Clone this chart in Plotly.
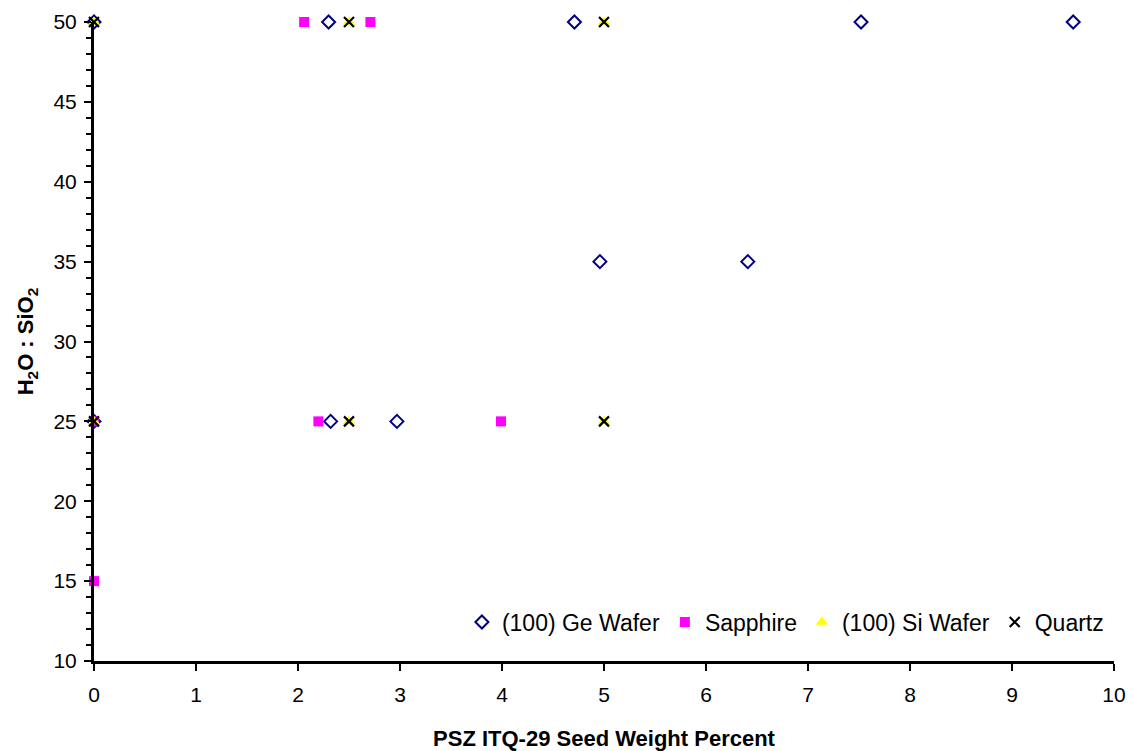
import plotly.graph_objects as go

ge_x = [0, 2.3, 4.71, 7.52, 9.6, 4.96, 6.41, 0, 2.32, 2.97]
ge_y = [50, 50, 50, 50, 50, 35, 35, 25, 25, 25]

sap_x = [2.06, 2.71, 0, 2.2, 3.99, 0]
sap_y = [50, 50, 25, 25, 25, 15]

si_x = [0, 2.5, 5, 0, 2.5, 5]
si_y = [50, 50, 50, 25, 25, 25]

qz_x = [0, 2.5, 5, 0, 2.5, 5]
qz_y = [50, 50, 50, 25, 25, 25]

FONT = "Liberation Sans, Arial, sans-serif"

fig = go.Figure()
fig.add_trace(go.Scatter(x=ge_x, y=ge_y, mode="markers", name="(100) Ge Wafer",
                         marker=dict(symbol="diamond-open", size=10, color="#000080",
                                     line=dict(width=2, color="#000080")),
                         cliponaxis=False))
fig.add_trace(go.Scatter(x=sap_x, y=sap_y, mode="markers", name="Sapphire",
                         marker=dict(symbol="square", size=10, color="#FF00FF",
                                     line=dict(width=0)),
                         cliponaxis=False))
fig.add_trace(go.Scatter(x=si_x, y=si_y, mode="markers", name="(100) Si Wafer",
                         marker=dict(symbol="triangle-up", size=11, color="#FFFF00",
                                     line=dict(width=0)),
                         cliponaxis=False))
fig.add_trace(go.Scatter(x=qz_x, y=qz_y, mode="markers", name="Quartz",
                         marker=dict(symbol="x-thin", size=10, color="#000000",
                                     line=dict(width=2.2, color="#000000")),
                         cliponaxis=False))

fig.update_layout(
    width=1134, height=751,
    margin=dict(l=94, r=20, t=22, b=90, autoexpand=False),
    paper_bgcolor="white", plot_bgcolor="white",
    font=dict(family=FONT, size=21, color="black"),
    showlegend=True,
    legend=dict(orientation="h", x=0.995, xanchor="right", y=0.061, yanchor="middle",
                bgcolor="rgba(0,0,0,0)", font=dict(size=23, family=FONT),
                itemwidth=30, tracegroupgap=0),
)
fig.update_xaxes(range=[0, 10], tickmode="linear", tick0=0, dtick=1,
                 automargin=False,
                 showgrid=False, zeroline=False, showline=True, linewidth=3,
                 linecolor="black", ticks="outside", ticklen=7, tickwidth=2,
                 tickcolor="black", tickfont=dict(size=21, family=FONT),
                 ticklabelstandoff=6,
                 title=dict(text="<b>PSZ ITQ-29 Seed Weight Percent</b>",
                            font=dict(size=22, family=FONT), standoff=26))
fig.update_yaxes(range=[10, 50], tickmode="linear", tick0=10, dtick=5,
                 automargin=False,
                 showgrid=False, zeroline=False, showline=True, linewidth=3,
                 linecolor="black", ticks="outside", ticklen=7, tickwidth=2,
                 tickcolor="black", tickfont=dict(size=21, family=FONT),
                 ticklabelstandoff=3,
                 minor=dict(ticks="outside", dtick=1, tick0=10, ticklen=5,
                            tickwidth=2, tickcolor="black", showgrid=False),
                 title=dict(text="<b>H<sub>2</sub>O : SiO<sub>2</sub></b>",
                            font=dict(size=22, family=FONT), standoff=14))

fig.write_html("out.html")
